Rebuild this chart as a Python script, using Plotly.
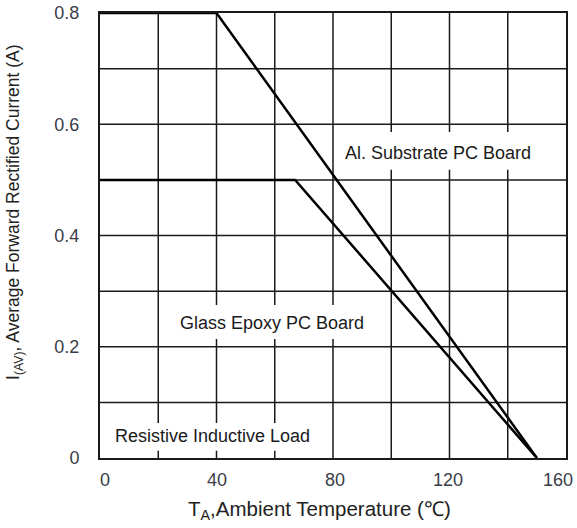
import plotly.graph_objects as go

# Data
al_temp = [0, 40, 150]
al_current = [0.8, 0.8, 0.0]
glass_temp = [0, 67, 150]
glass_current = [0.5, 0.5, 0.0]

x_ticks = [0, 40, 80, 120, 160]
x_tick_labels = ["0", "40", "80", "120", "160"]
y_ticks = [0, 0.2, 0.4, 0.6, 0.8]
y_tick_labels = ["0", "0.2", "0.4", "0.6", "0.8"]
grid_x = [20, 40, 60, 80, 100, 120, 140]
grid_y = [0.1, 0.2, 0.3, 0.4, 0.5, 0.6, 0.7]

labels = ["Al. Substrate PC Board", "Glass Epoxy PC Board", "Resistive Inductive Load"]
label_x = [116, 59, 38.6]
label_y = [0.548, 0.243, 0.04]

# white boxes behind the labels (x0, x1, y0, y1)
boxes = [(81, 151, 0.518, 0.586), (25, 93, 0.214, 0.275), (2, 76, 0.013, 0.063)]
x_label_shift = [5, 0, 2, -2, -8]

FONT = "Liberation Sans, Arial, sans-serif"
TXT = "#1a1a1a"
TICK = "#3a3d48"

fig = go.Figure()
for v in grid_y:
    fig.add_shape(type="line", x0=0, x1=160, y0=v, y1=v, xref="x", yref="y",
                  line=dict(color=TXT, width=1.5), layer="below")
for v in grid_x:
    fig.add_shape(type="line", x0=v, x1=v, y0=0, y1=0.8, xref="x", yref="y",
                  line=dict(color=TXT, width=1.5), layer="below")
for (bx0, bx1, by0, by1) in boxes:
    fig.add_shape(type="rect", x0=bx0, x1=bx1, y0=by0, y1=by1, xref="x", yref="y",
                  fillcolor="white", line=dict(width=0), layer="between")

fig.add_trace(go.Scatter(x=al_temp, y=al_current, mode="lines",
                         line=dict(color="black", width=2.5), showlegend=False,
                         cliponaxis=False))
fig.add_trace(go.Scatter(x=glass_temp, y=glass_current, mode="lines",
                         line=dict(color="black", width=2.5), showlegend=False,
                         cliponaxis=False))

for t, lx, ly in zip(labels, label_x, label_y):
    fig.add_annotation(x=lx, y=ly, xref="x", yref="y", text=t, showarrow=False,
                       font=dict(family=FONT, size=18, color=TXT))

for xv, xt, sh in zip(x_ticks, x_tick_labels, x_label_shift):
    fig.add_annotation(x=xv, y=-0.0494, xref="x", yref="paper", text=xt,
                       showarrow=False, xshift=sh, yanchor="middle",
                       font=dict(family=FONT, size=18, color=TICK))

fig.add_annotation(x=0.471, y=-0.117, xref="paper", yref="paper",
                   text="T<sub>A</sub>,Ambient Temperature (℃)", showarrow=False,
                   yanchor="middle", font=dict(family=FONT, size=20.5, color="#222"))
fig.add_annotation(x=-0.1824, y=0.553, xref="paper", yref="paper", textangle=-90,
                   text="I<sub>(AV)</sub>, Average Forward Rectified Current (A)",
                   showarrow=False, xanchor="center", yanchor="middle",
                   font=dict(family=FONT, size=17.5, color="#222"))

fig.update_xaxes(range=[0, 160], showticklabels=False, showgrid=False,
                 showline=True, linecolor=TXT, linewidth=2, mirror=True,
                 zeroline=False, ticks="", automargin=False)
fig.update_yaxes(range=[0, 0.8], tickvals=y_ticks, ticktext=y_tick_labels,
                 showgrid=False, showline=True, linecolor=TXT, linewidth=2,
                 mirror=True, zeroline=False, ticks="", ticklabelstandoff=15,
                 automargin=False,
                 tickfont=dict(family=FONT, size=18, color=TICK))

fig.update_layout(width=577, height=528, margin=dict(l=100, r=11, t=13, b=70),
                  plot_bgcolor="white", paper_bgcolor="white")

fig.write_html("out.html")
